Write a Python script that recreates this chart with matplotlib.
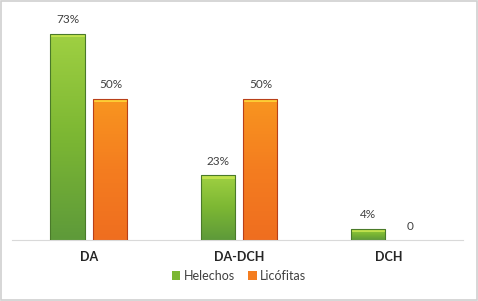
import matplotlib.pyplot as plt
import numpy as np
from matplotlib.colors import LinearSegmentedColormap

categories = ['DA', 'DA-DCH', 'DCH']
helechos = [73, 23, 4]
licofitas = [50, 50, 0]
helechos_labels = ['73%', '23%', '4%']
licofitas_labels = ['50%', '50%', '0']

plt.rcParams['font.family'] = ['Lato', 'DejaVu Sans']

fig = plt.figure(figsize=(4.78, 3.01), dpi=100)
ax = fig.add_axes([0.0251, 0.2027, 0.9435, 0.751])

x = np.arange(len(categories))
width = 0.227
off = 0.143

green_cmap = LinearSegmentedColormap.from_list('g', ['#9fd042', '#7cb733', '#5e9a3a'])
orange_cmap = LinearSegmentedColormap.from_list('o', ['#f8951f', '#f47d20', '#ef6e1f'])

def gradient_bars(xs, vals, cmap, edge, top, label):
    bars = ax.bar(xs, vals, width, color=cmap(0.5), edgecolor='none', linewidth=0,
                  label=label, zorder=2)
    grad = np.linspace(0, 1, 100).reshape(-1, 1)
    for b in bars:
        h = b.get_height()
        if h <= 0:
            continue
        x0 = b.get_x()
        im = ax.imshow(grad, cmap=cmap, aspect='auto', zorder=2.5,
                       extent=[x0, x0 + b.get_width(), 0, h], origin='upper')
        im.set_clip_path(b)
        # brillo en la parte superior
        ax.bar(x0 + b.get_width() / 2, 1.3, b.get_width(), bottom=h - 1.3,
               color=top, edgecolor='none', zorder=3, alpha=0.85)
        ax.bar(x0 + b.get_width() / 2, h, b.get_width(), fill=False,
               edgecolor=edge, linewidth=0.8, zorder=4)
    return bars

b1 = gradient_bars(x - off, helechos, green_cmap, '#4a7a2a', '#c8e650', 'Helechos')
b2 = gradient_bars(x + off, licofitas, orange_cmap, '#b8401a', '#ffd83a', 'Licófitas')

for xi, v, lab in zip(x - off, helechos, helechos_labels):
    ax.annotate(lab, (xi, v), xytext=(0, 6), textcoords='offset points',
                ha='center', va='bottom', fontsize=8.5, color='#404040')
for xi, v, lab in zip(x + off, licofitas, licofitas_labels):
    ax.annotate(lab, (xi, v), xytext=(0, 6), textcoords='offset points',
                ha='center', va='bottom', fontsize=8.5, color='#404040')

ax.set_xlim(-0.513, 2.493)
ax.set_ylim(0, 80)
ax.set_xticks(x)
ax.set_xticklabels(categories, fontsize=9, fontweight='bold', color='#262626')
ax.tick_params(axis='x', length=0, pad=8)
ax.set_yticks([])
for s in ['top', 'left', 'right']:
    ax.spines[s].set_visible(False)
ax.spines['bottom'].set_color('#d9d9d9')
ax.spines['bottom'].set_linewidth(0.8)

leg = fig.legend(handles=[b1, b2], loc='center', bbox_to_anchor=(0.5, 0.083), ncol=2,
                 frameon=False, fontsize=9, handlelength=0.7, handleheight=0.7,
                 handletextpad=0.3, columnspacing=1.0, labelcolor='#404040')
leg.legend_handles[0].set_edgecolor('#4a7a2a')
leg.legend_handles[1].set_edgecolor('#b8401a')

fig.patches.append(plt.Rectangle((0.002, 0.003), 0.995, 0.994, transform=fig.transFigure,
                                 fill=False, edgecolor='#d0d0d0', linewidth=1.2))

fig.savefig('out.png', dpi=100)
